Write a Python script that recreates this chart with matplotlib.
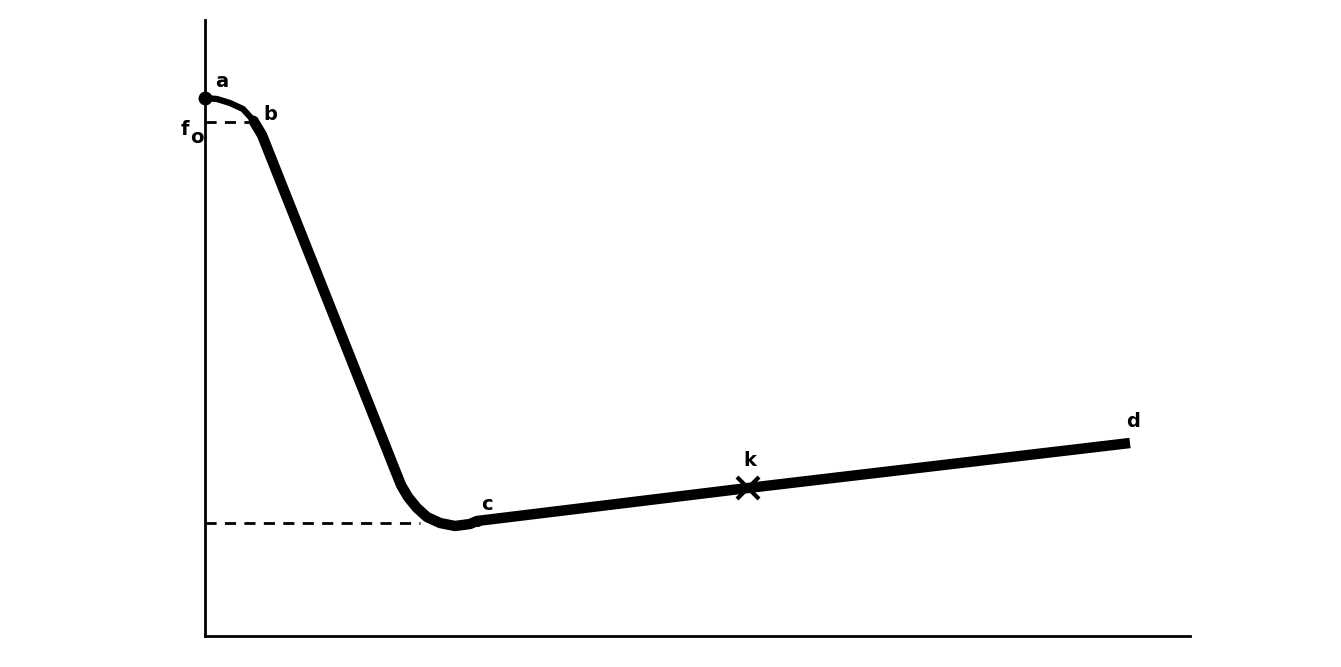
import matplotlib
matplotlib.use("Agg")
import matplotlib.pyplot as plt

# curve anchor points (schematic units)
curve_x = [0, 12, 25, 38, 48, 57, 190, 196, 203, 212, 222, 235, 250, 265, 272, 543, 925]
curve_y = [538, 537, 533, 527, 516, 501, 166, 151, 139, 128, 119, 113, 110, 112, 115, 148, 193]

pt_a = (0, 538)
pt_b = (48, 516)
pt_c = (272, 115)
pt_k = (543, 148)
pt_d = (925, 193)

f0_level = 514
min_level = 113

fig = plt.figure(figsize=(13.41, 6.67), dpi=100)
ax = fig.add_axes([205/1341, 31/667, 985/1341, 616/667])
ax.set_xlim(0, 985)
ax.set_ylim(0, 616)

ax.spines['top'].set_visible(False)
ax.spines['right'].set_visible(False)
ax.spines['left'].set_linewidth(2)
ax.spines['bottom'].set_linewidth(2)
ax.set_xticks([])
ax.set_yticks([])

# dashed guides
ax.plot([0, pt_b[0]], [f0_level, f0_level], color='black', lw=2, ls=(0, (4, 3)))
ax.plot([0, 215], [min_level, min_level], color='black', lw=2, ls=(0, (4, 3)))

# thinner first segment a-b
ax.plot(curve_x[:6], curve_y[:6], color='black', lw=4.5, solid_capstyle='round', solid_joinstyle='round')
ax.plot(curve_x[4:], curve_y[4:], color='black', lw=7.5, solid_capstyle='butt', solid_joinstyle='round')

ax.plot([pt_a[0]], [pt_a[1]], 'o', color='black', ms=9, clip_on=False)
ax.plot([pt_b[0]], [pt_b[1]], 'o', color='black', ms=6)
ax.plot([pt_c[0]], [pt_c[1]], 'o', color='black', ms=7)
ax.plot([pt_k[0]], [pt_k[1]], 'x', color='black', ms=16, mew=3)

fs = 14
kw = dict(fontsize=fs, fontweight='bold', color='black', family='DejaVu Sans')
ax.text(17, 554, 'a', ha='center', va='center', **kw)
ax.text(65, 521, 'b', ha='center', va='center', **kw)
ax.text(-20, 506, 'f', ha='center', va='center', clip_on=False, **kw)
ax.text(-8, 498, 'o', ha='center', va='center', clip_on=False, **kw)
ax.text(282, 131, 'c', ha='center', va='center', **kw)
ax.text(545, 175, 'k', ha='center', va='center', **kw)
ax.text(928, 214, 'd', ha='center', va='center', **kw)

fig.savefig('out.png', dpi=100)
